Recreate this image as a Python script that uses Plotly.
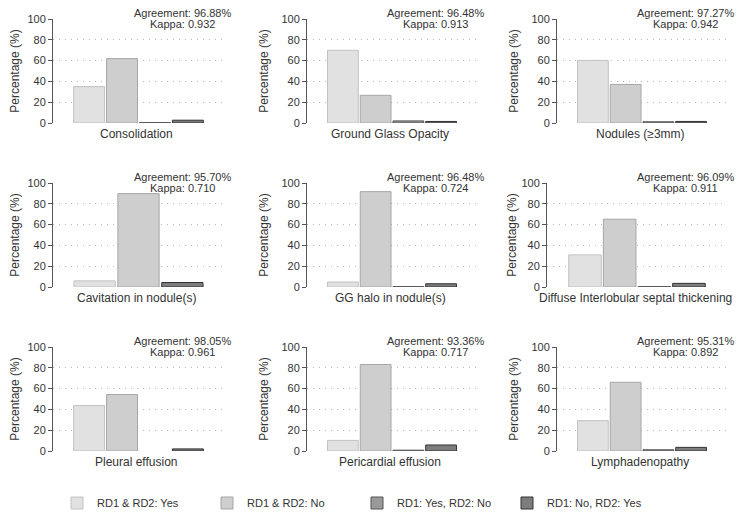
import plotly.graph_objects as go
from plotly.subplots import make_subplots

features = ["Consolidation", "Ground Glass Opacity", "Nodules (≥3mm)",
            "Cavitation in nodule(s)", "GG halo in nodule(s)", "Diffuse Interlobular septal thickening",
            "Pleural effusion", "Pericardial effusion", "Lymphadenopathy"]
agreement = [96.88, 96.48, 97.27, 95.70, 96.48, 96.09, 98.05, 93.36, 95.31]
kappa = [0.932, 0.913, 0.942, 0.710, 0.724, 0.911, 0.961, 0.717, 0.892]

# percentages per category (None = category not shown in that panel)
yes_yes = [35.0, 69.9, 60.2, 5.9, 4.8, 30.9, 43.8, 10.2, 29.2]
no_no = [61.9, 26.6, 37.1, 89.8, 91.7, 65.2, 54.3, 83.2, 66.1]
yes_no = [0.4, 2.0, 1.2, None, 0.4, 0.4, 0.0, 0.8, 1.2]
no_yes = [2.7, 1.5, 1.5, 4.3, 3.1, 3.5, 2.0, 5.8, 3.5]

series_names = ["RD1 & RD2: Yes", "RD1 & RD2: No", "RD1: Yes, RD2: No", "RD1: No, RD2: Yes"]
fills = ["#e1e1e1", "#cecece", "#9a9a9a", "#7d7d7d"]
edges = ["#c2c2c2", "#a6a6a6", "#555555", "#333333"]

# page has an 8px body margin, so the figure is drawn 8px smaller and positions shifted
OFF = 8
W, H = 747 - OFF, 518 - OFF
# panel boxes in screen pixels (left, right) / (top, bottom)
panel_left = [53, 307, 557, 53, 307, 547, 53, 307, 557]
col_right = [224, 477, 727]
row_px = [(19, 123), (183, 287), (347, 451)]
title_gap = [10, 10, 10, 10, 10, 2, 10, 10, 10]


def px(X):
    return (X - OFF) / W


def py(Y):
    return 1 - (Y - OFF) / H


fig = make_subplots(rows=3, cols=3)

all_series = [yes_yes, no_no, yes_no, no_yes]
for i, feat in enumerate(features):
    r, c = i // 3 + 1, i % 3 + 1
    for k, vals in enumerate(all_series):
        if vals[i] is None:
            continue
        fig.add_trace(go.Bar(x=[feat], y=[vals[i]], name=series_names[k],
                             legendgroup=series_names[k], showlegend=(i == 0),
                             marker=dict(color=fills[k],
                                         line=dict(color=edges[k], width=1 if vals[i] > 0 else 0))),
                      row=r, col=c)

    n = i + 1
    xa = "xaxis" if n == 1 else "xaxis%d" % n
    ya = "yaxis" if n == 1 else "yaxis%d" % n
    x0, x1 = panel_left[i], col_right[i % 3]
    y0, y1 = row_px[i // 3]
    fig.layout[xa].update(domain=[px(x0), px(x1)], showgrid=False, showline=False, ticks="",
                          zeroline=False, automargin=False, showticklabels=False)
    fig.layout[ya].update(domain=[py(y1), py(y0)], range=[0, 100], dtick=20,
                          showgrid=True, gridcolor="#b8b8b8", griddash="1px,5px", gridwidth=1,
                          zeroline=False, showline=True, linecolor="#555555", linewidth=1,
                          ticks="outside", ticklen=4, tickcolor="#555555", automargin=False,
                          tickfont=dict(size=11, color="#333333"),
                          title=dict(text="Percentage (%)", font=dict(size=12, color="#333333"),
                                     standoff=title_gap[i]))

    # feature name under the bars
    fig.add_annotation(x=px((x0 + x1) / 2 - 2), y=py(y1 + 11), xref="paper", yref="paper", text=feat,
                       showarrow=False, xanchor="center", yanchor="middle",
                       font=dict(size=12, color="#333333"))

    # agreement / kappa, top right of each panel
    fig.add_annotation(x=px(x1 - 42), y=py(y0 - 6), xref="paper", yref="paper",
                       text="Agreement: %.2f%%" % agreement[i], showarrow=False,
                       xanchor="center", yanchor="middle", font=dict(size=11, color="#333333"))
    fig.add_annotation(x=px(x1 - 42), y=py(y0 + 5), xref="paper", yref="paper",
                       text="Kappa: %.3f" % kappa[i], showarrow=False,
                       xanchor="center", yanchor="middle", font=dict(size=11, color="#333333"))

fig.update_layout(
    width=W, height=H,
    margin=dict(l=0, r=0, t=0, b=0, autoexpand=False),
    plot_bgcolor="white", paper_bgcolor="white",
    font=dict(family="Liberation Sans, Arial, sans-serif", color="#333333"),
    barmode="group", bargap=0.23, bargroupgap=0.06,
    legend=dict(orientation="h", x=px(57), y=py(503), xanchor="left", yanchor="middle",
                entrywidth=105, entrywidthmode="pixels", font=dict(size=11, color="#333333")),
)

fig.write_html("out.html")
